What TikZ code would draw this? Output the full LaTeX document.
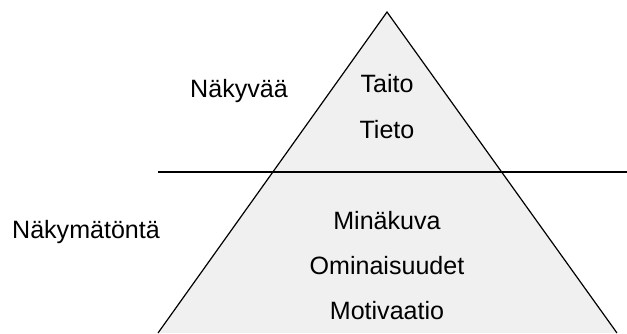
\documentclass[tikz,border=0pt]{standalone}
\usepackage{fontspec}
\setmainfont{Liberation Sans}
\usepackage{xcolor}
\definecolor{icefill}{RGB}{240, 240, 240}

\begin{document}
\begin{tikzpicture}[x=0.75pt, y=-0.75pt, lbl/.style={font=\fontsize{18.8}{22}\selectfont, inner sep=0pt}]
    \useasboundingbox (0, 0) rectangle (627, 333);
    \coordinate (top) at (387, 12);
    \coordinate (bl) at (158, 333);
    \coordinate (br) at (617, 333);
    \fill[icefill] (bl) -- (top) -- (br) -- cycle;
    \draw[line width=0.9pt, line join=miter] (bl) -- (top) -- (br);
    \draw[line width=1.5pt] (158, 171.5) coordinate (wl) -- (627, 171.5) coordinate (wr);
    \node[lbl] (taito) at (387, 84) {Taito};
    \node[lbl] (tieto) at (387, 130) {Tieto};
    \node[lbl] (mina) at (387, 221) {Minäkuva};
    \node[lbl] (omin) at (387, 266) {Ominaisuudet};
    \node[lbl] (moti) at (387, 311) {Motivaatio};
    \node[lbl] (nakyva) at (239, 91) {Näkyvää};
    \node[lbl] (nakymaton) at (86, 232) {Näkymätöntä};
  \end{tikzpicture}
\end{document}
